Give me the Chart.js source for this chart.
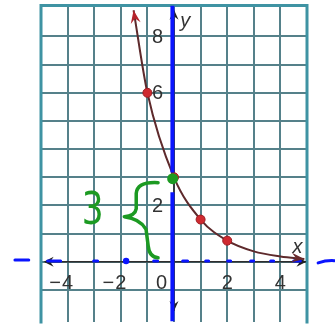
<!DOCTYPE html>
<html>
<head>
<meta charset="utf-8">
<script src="https://cdn.jsdelivr.net/npm/chart.js@4"></script>
<style>
  body { margin: 0; background: #fff; }
  #wrap { width: 335px; height: 327px; }
</style>
</head>
<body>
<div id="wrap"><canvas id="graph" width="335" height="327"></canvas></div>
<script>
// curve y = 3(1/2)^x, sampled where it crosses the grid
const curveX = [-1.52, -1, 0, 1, 2, 3, 4, 4.9];
const curveY = [8.93, 6, 3, 1.5, 0.75, 0.37, 0.19, 0.1];
// plotted table points
const pointX = [-1, 0, 1, 2];
const pointY = [6, 3, 1.5, 0.75];
// axis numbering
const xTickLabels = [-4, -2, 0, 2, 4];
const yTickLabels = [8, 6, 2];
// pen notes: y-intercept of 3
const interceptX = [-0.05];
const interceptY = [2.95];
const braceLabel = '3';
const penDotX = [-1.8];
const penDotY = [0.03];

const BLUE = '#0a14ff';
const GREEN = '#1c9a22';
const INK = '#333';

const xy = (xs, ys) => xs.map((x, i) => ({ x, y: ys[i] }));

function arrowHead(ctx, tip, from, len, half, color) {
  const a = Math.atan2(tip.y - from.y, tip.x - from.x);
  ctx.save();
  ctx.translate(tip.x, tip.y);
  ctx.rotate(a);
  ctx.beginPath();
  ctx.moveTo(0, 0);
  ctx.lineTo(-len, -half);
  ctx.lineTo(-len * 0.65, 0);
  ctx.lineTo(-len, half);
  ctx.closePath();
  ctx.fillStyle = color;
  ctx.fill();
  ctx.restore();
}

// frame, axes and numbering, under the datasets
const gridDecor = {
  id: 'gridDecor',
  beforeDatasetsDraw(chart) {
    const { ctx, chartArea: a, scales: { x, y } } = chart;
    const P = (vx, vy) => ({ x: x.getPixelForValue(vx), y: y.getPixelForValue(vy) });
    ctx.save();
    // teal frame
    ctx.strokeStyle = '#3f93a3';
    ctx.lineWidth = 3;
    ctx.beginPath();
    ctx.moveTo(a.left, a.bottom + 2);
    ctx.lineTo(a.left, a.top);
    ctx.lineTo(a.right, a.top);
    ctx.lineTo(a.right, a.bottom + 2);
    ctx.stroke();

    // axes
    const o = P(0, 0);
    ctx.strokeStyle = '#2e2e2e';
    ctx.lineWidth = 1.6;
    ctx.beginPath();
    ctx.moveTo(P(-4.85, 0).x, o.y);
    ctx.lineTo(P(4.95, 0).x, o.y);
    ctx.moveTo(o.x, P(0, 8.9).y);
    ctx.lineTo(o.x, P(0, -1.75).y);
    ctx.stroke();
    arrowHead(ctx, P(-4.9, 0), P(0, 0), 10, 5, '#222');
    arrowHead(ctx, P(4.98, 0), P(0, 0), 10, 5, '#222');
    arrowHead(ctx, P(0, 8.95), P(0, 0), 10, 4.5, '#222');
    arrowHead(ctx, P(0, -1.75), P(0, 0), 10, 4.5, '#222');

    // numbering
    ctx.fillStyle = INK;
    ctx.font = '20px "Liberation Sans", Arial, sans-serif';
    ctx.textBaseline = 'middle';
    xTickLabels.forEach(v => {
      const p = P(v, 0);
      const ty = p.y + 22;
      if (v === 0) {
        ctx.textAlign = 'right';
        ctx.fillText('0', p.x - 7, ty);
        return;
      }
      const digits = String(Math.abs(v));
      const w = ctx.measureText(digits).width;
      ctx.textAlign = 'center';
      ctx.fillText(digits, p.x, ty);
      if (v < 0) {
        ctx.textAlign = 'right';
        ctx.fillText('\u2212', p.x - w / 2 - 1, ty);
      }
    });
    ctx.textAlign = 'right';
    yTickLabels.forEach(v => {
      const p = P(0, v);
      ctx.fillText(String(v), p.x - 11, p.y + 1);
    });

    ctx.font = 'italic 20px "Liberation Sans", Arial, sans-serif';
    ctx.textAlign = 'center';
    ctx.fillText('y', P(0.42, 0).x, P(0, 8.55).y);
    ctx.fillText('x', P(4.64, 0).x, P(0, 0.5).y);
    ctx.restore();
  }
};

// curve arrowheads and pen notes, over the datasets
const penDecor = {
  id: 'penDecor',
  afterDatasetsDraw(chart) {
    const { ctx, scales: { x, y } } = chart;
    const P = (vx, vy) => ({ x: x.getPixelForValue(vx), y: y.getPixelForValue(vy) });
    const n = curveX.length;
    arrowHead(ctx, P(curveX[0], curveY[0]), P(curveX[1], curveY[1]), 13, 5, '#b4232b');
    arrowHead(ctx, P(curveX[n - 1], curveY[n - 1]), P(curveX[n - 2], curveY[n - 2]), 13, 5, '#6a2a2d');

    ctx.save();
    ctx.strokeStyle = BLUE;
    ctx.lineWidth = 3;
    ctx.lineCap = 'round';
    // dashes past the frame
    let l = P(-5.98, 0.06), r = P(-5.46, 0.06);
    ctx.beginPath(); ctx.moveTo(l.x, l.y); ctx.lineTo(r.x, r.y); ctx.stroke();
    l = P(5.42, -0.04); r = P(6.02, 0.04);
    const m = P(5.72, 0.02);
    ctx.beginPath(); ctx.moveTo(l.x, l.y); ctx.quadraticCurveTo(m.x, m.y - 1, r.x, r.y); ctx.stroke();

    // brace
    ctx.strokeStyle = GREEN;
    ctx.lineWidth = 3.5;
    ctx.lineJoin = 'round';
    const b = [[-0.6, 2.81], [-1.38, 2.85], [-1.42, 2.43], [-1.42, 1.88], [-1.46, 1.63], [-1.87, 1.6],
               [-1.27, 1.53], [-1.05, 1.15], [-0.97, 0.56], [-0.93, 0.17], [-0.6, 0.14]].map(q => P(q[0], q[1]));
    ctx.beginPath();
    ctx.moveTo(b[0].x, b[0].y);
    ctx.quadraticCurveTo(b[1].x, b[1].y, b[2].x, b[2].y);
    ctx.lineTo(b[3].x, b[3].y);
    ctx.quadraticCurveTo(b[4].x, b[4].y, b[5].x, b[5].y);
    ctx.quadraticCurveTo(b[6].x, b[6].y, b[7].x, b[7].y);
    ctx.lineTo(b[8].x, b[8].y);
    ctx.quadraticCurveTo(b[9].x, b[9].y, b[10].x, b[10].y);
    ctx.stroke();

    // the "3" beside the brace
    const c = P(-3.06, 1.74);
    ctx.translate(c.x, c.y);
    ctx.scale(0.78, 1);
    ctx.fillStyle = GREEN;
    ctx.font = '44px "DejaVu Sans", sans-serif';
    ctx.textAlign = 'center';
    ctx.textBaseline = 'middle';
    ctx.fillText(braceLabel, 0, 0);
    ctx.restore();
  }
};

const gridTicks = (lo, hi) => scale => {
  const t = [];
  for (let v = lo; v <= hi; v++) t.push({ value: v });
  scale.ticks = t;
};

new Chart(document.getElementById('graph'), {
  type: 'scatter',
  data: {
    datasets: [
      {
        type: 'line',
        data: xy(curveX, curveY),
        borderColor: '#5e2a2c',
        borderWidth: 2,
        pointRadius: 0,
        cubicInterpolationMode: 'monotone',
        order: 5
      },
      {
        data: xy(pointX, pointY),
        backgroundColor: '#cf2a30',
        borderColor: '#9c1d22',
        borderWidth: 1,
        pointRadius: 4.5,
        order: 4
      },
      {
        type: 'line',
        data: [{ x: -4.75, y: 0.03 }, { x: 4.75, y: 0.03 }],
        borderColor: BLUE,
        borderWidth: 3,
        borderCapStyle: 'round',
        borderDash: [13, 33, 4, 56, 4, 25, 5, 18, 3, 19, 3, 20, 3, 17, 3, 20, 7, 40],
        pointRadius: 0,
        order: 3
      },
      {
        data: xy(penDotX, penDotY),
        backgroundColor: BLUE,
        borderWidth: 0,
        pointRadius: 3.2,
        order: 3
      },
      {
        type: 'line',
        data: [
          { x: -0.06, y: 9.1 }, { x: -0.06, y: 3.17 }, { x: -0.06, y: null },
          { x: -0.06, y: 2.47 }, { x: -0.06, y: -2.12 }
        ],
        spanGaps: false,
        borderColor: BLUE,
        borderWidth: 4,
        pointRadius: 0,
        order: 2
      },
      {
        data: xy(interceptX, interceptY),
        backgroundColor: GREEN,
        borderWidth: 0,
        pointRadius: 5.5,
        order: 1
      }
    ]
  },
  options: {
    responsive: false,
    animation: false,
    events: [],
    layout: { padding: { left: 41, right: 28, top: 4, bottom: 0 } },
    plugins: { legend: { display: false }, tooltip: { enabled: false } },
    scales: {
      x: {
        type: 'linear',
        min: -5,
        max: 5,
        afterBuildTicks: gridTicks(-4, 4),
        afterFit: s => { s.height = 0; },
        ticks: { display: false },
        border: { display: false },
        grid: { color: '#55818a', lineWidth: 2, drawTicks: false }
      },
      y: {
        type: 'linear',
        min: -2.12,
        max: 9.1,
        afterBuildTicks: gridTicks(-1, 8),
        afterFit: s => { s.width = 0; },
        ticks: { display: false },
        border: { display: false },
        grid: { color: '#55818a', lineWidth: 2, drawTicks: false }
      }
    }
  },
  plugins: [gridDecor, penDecor]
});
</script>
</body>
</html>
